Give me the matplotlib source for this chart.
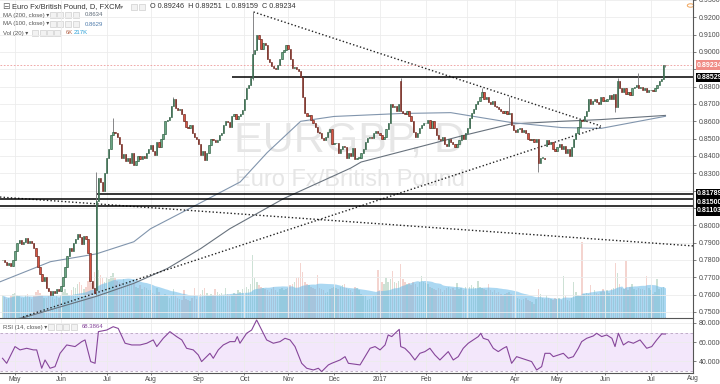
import numpy as np
import pandas as pd
import matplotlib
matplotlib.use("Agg")
import matplotlib.pyplot as plt
import matplotlib.transforms as mtransforms
from matplotlib.patches import Rectangle, Circle

plt.rcParams['font.family'] = ['Liberation Sans', 'DejaVu Sans']

# ---------------- data : EUR/GBP daily (FXCM) ----------------
dates = pd.bdate_range('2016-04-22', '2017-07-12')

closes_2016 = [
    0.7800, 0.7790, 0.7770, 0.7780, 0.7765, 0.7800,
    0.7850, 0.7900, 0.7915, 0.7890, 0.7905, 0.7925, 0.7900, 0.7910, 0.7895, 0.7870, 0.7820,
    0.7760, 0.7720, 0.7680, 0.7700, 0.7640, 0.7620, 0.7600, 0.7620, 0.7610, 0.7630, 0.7620,
    0.7650, 0.7700, 0.7760, 0.7820, 0.7870, 0.7850, 0.7900, 0.7920, 0.7950, 0.7930, 0.7890,
    0.7940, 0.7920, 0.7840, 0.7680, 0.7640, 0.7610, 0.8140, 0.8270, 0.8250, 0.8200, 0.8300,
    0.8390, 0.8440, 0.8520, 0.8540, 0.8530, 0.8510, 0.8470, 0.8390, 0.8410, 0.8370, 0.8390,
    0.8360, 0.8420, 0.8350, 0.8370, 0.8400, 0.8380, 0.8400, 0.8390, 0.8420, 0.8440,
    0.8465, 0.8430, 0.8405, 0.8480, 0.8450, 0.8500, 0.8525, 0.8600, 0.8610, 0.8625, 0.8690,
    0.8730, 0.8675, 0.8665, 0.8670, 0.8640, 0.8600, 0.8570, 0.8560, 0.8580, 0.8530, 0.8510, 0.8500,
    0.8470, 0.8405, 0.8430, 0.8375, 0.8420, 0.8465, 0.8500, 0.8495, 0.8480, 0.8495, 0.8520,
    0.8530, 0.8580, 0.8600, 0.8595, 0.8570, 0.8630, 0.8640, 0.8615, 0.8630, 0.8640, 0.8665,
    0.8730, 0.8790, 0.8810, 0.8850, 0.8990, 0.9010, 0.9100, 0.9075, 0.9020, 0.9050, 0.9040,
    0.8960, 0.8940, 0.8920, 0.8905, 0.8900, 0.8925, 0.8960, 0.9000, 0.9010, 0.9040,
    0.9015, 0.8960, 0.8905, 0.8915, 0.8900, 0.8890, 0.8855, 0.8740, 0.8650, 0.8630, 0.8635,
    0.8610, 0.8590, 0.8570, 0.8540, 0.8530, 0.8505, 0.8495, 0.8510, 0.8540, 0.8555, 0.8470,
    0.8475, 0.8475, 0.8420, 0.8440, 0.8460, 0.8450, 0.8390, 0.8415, 0.8400, 0.8445, 0.8385,
    0.8390, 0.8390, 0.8415, 0.8440, 0.8480, 0.8505, 0.8510, 0.8505, 0.8530, 0.8545, 0.8535,
]
closes_2017 = [
    0.8520, 0.8500, 0.8510, 0.8555, 0.8590, 0.8700, 0.8680, 0.8690, 0.8660, 0.8700, 0.8660,
    0.8650, 0.8640, 0.8660, 0.8630, 0.8600, 0.8540, 0.8510, 0.8530, 0.8560, 0.8580, 0.8590,
    0.8590, 0.8610, 0.8560, 0.8600, 0.8560, 0.8520, 0.8500, 0.8490, 0.8510, 0.8470,
    0.8460, 0.8500, 0.8480, 0.8470, 0.8450, 0.8470, 0.8490, 0.8520, 0.8500, 0.8530,
    0.8560, 0.8620, 0.8650, 0.8670, 0.8700, 0.8720, 0.8740, 0.8770, 0.8730, 0.8740, 0.8710,
    0.8700, 0.8720, 0.8690, 0.8680, 0.8670, 0.8660, 0.8650, 0.8660, 0.8640, 0.8650, 0.8580, 0.8550,
    0.8540, 0.8555, 0.8560, 0.8540, 0.8550, 0.8530, 0.8500, 0.8490, 0.8500, 0.8480,
    0.8500, 0.8360, 0.8390, 0.8390, 0.8380, 0.8490, 0.8470, 0.8480, 0.8440, 0.8430,
    0.8450, 0.8470, 0.8440, 0.8460, 0.8420, 0.8440, 0.8400, 0.8450, 0.8500, 0.8530, 0.8570,
    0.8610, 0.8600, 0.8630, 0.8660, 0.8730, 0.8700, 0.8720, 0.8730, 0.8710, 0.8700, 0.8740, 0.8720,
    0.8720, 0.8730, 0.8750, 0.8730, 0.8760, 0.8680, 0.8830, 0.8790, 0.8770, 0.8790, 0.8760,
    0.8770, 0.8750, 0.8790, 0.8800, 0.8810, 0.8790, 0.8800, 0.8780, 0.8790, 0.8770, 0.8780,
    0.8780, 0.8775, 0.8790, 0.8810, 0.8830, 0.8845, 0.8925, 0.89234,
]
# opens follow the previous close except on gap days
open_gaps = {45: 0.7625, 191: 0.8830, 261: 0.8460, 318: 0.89246}
# wicks that stand out on the chart: bar -> (high, low)
wicks = {45: (0.8305, 0.7600), 53: (0.8620, None), 82: (0.8740, None),
         120: (0.9230, 0.8840), 191: (0.8850, None), 230: (0.8790, None),
         243: (0.8740, None), 257: (None, 0.8310), 294: (None, 0.8655),
         295: (0.8850, None), 305: (0.8880, None), 318: (0.89251, 0.89159)}

# volume in thousands
volume_2016 = [
    190, 175, 160, 170, 185, 200,
    210, 195, 180, 170, 165, 190, 200, 175, 160, 185, 215, 230, 205, 190, 170, 165, 180, 200, 175, 160, 185, 170,
    195, 220, 240, 210, 190, 230, 260, 250, 280, 300, 270, 240, 260, 310, 330, 290, 380, 420, 400, 360, 330, 300,
    340, 320, 350, 370, 330, 310, 300, 290, 320, 280, 300, 290, 270, 280, 260, 250, 270, 240, 260, 250, 230,
    230, 210, 200, 250, 220, 190, 180, 200, 190, 170, 180, 240, 190, 170, 160, 150, 230, 160, 150, 140, 165, 250, 160,
    190, 200, 230, 250, 210, 180, 200, 190, 240, 220, 200, 210, 190, 250, 200, 180, 190, 210, 200, 230, 220, 240,
    250, 260, 240, 280, 520, 330, 300, 270, 260, 250, 240, 230, 220, 240, 260, 230, 220, 240, 250, 230, 240,
    250, 270, 280, 300, 330, 340, 460, 380, 300, 280, 270, 260, 250, 240, 360, 250, 240, 230, 210, 220, 240, 250,
    260, 250, 240, 260, 270, 280, 250, 240, 230, 220, 260, 250, 230, 200, 190, 180, 150, 160, 170, 180, 190, 400,
]
volume_2017 = [
    230, 300, 280, 330, 300, 320, 390, 300, 290, 310, 450, 320, 300, 280, 290, 270, 300, 280, 260, 300, 350, 300,
    290, 280, 260, 250, 240, 230, 250, 240, 220, 230, 250, 260, 240, 250, 230, 290, 240, 250, 230, 260,
    290, 260, 270, 260, 250, 310, 260, 250, 240, 230, 280, 230, 220, 230, 210, 220, 200, 190, 200, 210, 220, 200, 190,
    180, 170, 160, 150, 160, 170, 150, 140, 130, 120, 160, 240, 200, 170, 160, 190, 170, 160, 150, 170,
    160, 170, 150, 345, 180, 150, 140, 170, 295, 220, 190, 180, 630, 200, 210, 200, 270, 190, 230, 210, 200, 220, 240,
    220, 230, 210, 240, 250, 460, 370, 280, 250, 240, 470, 230, 260, 280, 240, 230, 250, 240, 240, 230, 345, 250,
    230, 200, 220, 320, 240, 250, 260, 6,
]

# moving averages, sampled off the chart (bar index, value)
ma200_idx = [-2, 11, 45, 63, 79, 95, 109, 135, 167, 172, 196, 220, 244, 268, 287, 318]
ma200_val = [0.7440, 0.7470, 0.7590, 0.7665, 0.7750, 0.7865, 0.7980, 0.8155, 0.8330, 0.8365,
             0.8440, 0.8515, 0.8585, 0.8600, 0.8610, 0.8634]
ma100_idx = [-2, 23, 45, 63, 71, 95, 114, 127, 143, 159, 191, 215, 244, 268, 287, 318]
ma100_val = [0.7670, 0.7790, 0.7835, 0.7905, 0.7980, 0.8130, 0.8250, 0.8420, 0.8600, 0.8628,
             0.8645, 0.8650, 0.8593, 0.8564, 0.8559, 0.8629]

# RSI(14), sampled off the lower pane (bar index, value)
rsi_idx = [0, 2, 6, 8.4, 11.6, 14.8, 16.4, 18.8, 20.4, 22.8, 25.2, 27.6, 30.8, 34.8, 38, 39.6,
           42.3, 44.4, 46, 50, 53.1, 55.5, 58.8, 62, 66, 69.2, 72.3, 74, 77.1, 80.3, 83.5, 86,
           88.3, 91.5, 93.9, 95.5, 97.9, 99.5, 101.1, 103.5, 105.9, 109.1, 111.5, 112.6, 113.9,
           117.1, 119.5, 121.9, 124.3, 126.7, 129.9, 133.1, 135.5, 137.9, 140.3, 143.5, 145.9,
           149.1, 151.5, 153.1, 156.3, 157.9, 161.9, 164.3, 165.9, 171.5, 176.3, 178.7, 181.1,
           183.5, 185, 186.7, 188.3, 190.3, 191, 193, 195.4, 197.8, 200.2, 202.6, 205, 207.4,
           209.8, 212.2, 213.8, 216.2, 218.6, 221, 223.4, 225.8, 228.2, 229.4, 230.6, 233, 235.4,
           237.8, 240.2, 241.8, 244.2, 246.6, 249, 251.4, 253.8, 256.2, 258.6, 260.2, 262.6,
           264.2, 266.6, 269, 271.4, 273.8, 276.2, 277.8, 280.2, 283.4, 285, 287.4, 289.8, 292.3,
           293.8, 295.4, 297.8, 300.2, 302.6, 305.8, 309, 311.4, 313.8, 316.2, 318]
rsi_val = [42.9, 37.6, 55.2, 51.7, 53.4, 51.7, 51.7, 32.4, 41.1, 32.4, 34.1, 48.1, 56.9, 55.2,
           60.4, 62.2, 39.4, 37.6, 70.9, 72.6, 76.1, 74.3, 58.7, 56.9, 56.9, 58.7, 62.2, 55.2,
           63.9, 70.9, 65.7, 62.2, 53.4, 51.7, 46.4, 39.4, 44.6, 48.1, 42.9, 51.7, 56.9, 60.4,
           60.4, 65.7, 58.7, 69.2, 72.6, 83.2, 72.6, 62.2, 58.7, 60.4, 63.9, 62.2, 55.2, 37.6,
           32.4, 30.6, 32.4, 28.9, 35.9, 37.6, 41.1, 44.6, 37.6, 35.9, 53.4, 55.2, 51.7, 56.9,
           67.4, 65.7, 69.2, 73.3, 55.2, 53.4, 48.1, 41.1, 48.1, 49.9, 53.4, 46.4, 41.1, 46.4,
           49.9, 41.1, 44.6, 53.4, 58.7, 62.2, 65.7, 69.2, 63.9, 62.2, 53.4, 49.9, 53.4, 55.2,
           37.6, 44.6, 42.9, 41.1, 39.4, 30.6, 34.1, 48.1, 48.1, 44.6, 46.4, 48.1, 42.9, 44.6,
           53.4, 60.4, 63.9, 66.4, 69.2, 65.7, 67.4, 63.9, 55.2, 69.2, 56.9, 60.4, 58.7, 62.2,
           53.4, 55.2, 62.2, 68.5, 68.4]

# hand-drawn studies: trend lines (bar, price) pairs and horizontal levels
trend_lines = [((120.4, 0.9231), (287.0, 0.8573)),
               ((9.8, 0.7471), (287.0, 0.8567)),
               ((-1.2, 0.8163), (331.2, 0.7881))]
levels = [0.88529, 0.81789, 0.81500, 0.81103]
level_start = [110.0, 45.3, -1.2, -1.2]
last_price = 0.89234

# ---------------- derived series ----------------
closes = np.array(closes_2016 + closes_2017)
volume = np.array(volume_2016 + volume_2017, dtype=float)
assert len(closes) == len(dates) == len(volume), (len(closes), len(dates), len(volume))
assert len(rsi_idx) == len(rsi_val), (len(rsi_idx), len(rsi_val))
n = len(closes)
x = np.arange(n)
opens = np.r_[closes[0], closes[:-1]]
for i, v in open_gaps.items():
    opens[i] = v
highs = np.maximum(opens, closes)
lows = np.minimum(opens, closes)
for i, (h, l) in wicks.items():
    if h is not None:
        highs[i] = h
    if l is not None:
        lows[i] = l
up = closes >= opens
vol_ma = pd.Series(volume).rolling(20, min_periods=1).mean().values

# ---------------- figure ----------------
W, H = 720, 384
fig = plt.figure(figsize=(7.2, 3.84), dpi=100)
fig.patch.set_facecolor('white')


def fx(px):
    return px / W


def fy(py):
    return 1 - py / H


XL = (-1.2, 331.2)
ax = fig.add_axes([0, fy(318), fx(693), 318 / H])
axv = ax.twinx()
ax.set_zorder(axv.get_zorder() + 1)
ax.patch.set_visible(False)
axr = fig.add_axes([0, fy(373), fx(693), (373 - 319) / H], sharex=ax)

grid_c = '#ececec'
txt_c = '#4a4a4a'
axis_fs = 5.0

# volume + volume MA area
vcol = np.where(up, '#6ba58355', '#d7544240')
axv.bar(x, volume, width=0.7, color=vcol, lw=0)
axv.fill_between(x, 0, vol_ma, color='#67b8e8', alpha=0.55, lw=0)
axv.set_ylim(0, 2640)
axv.set_yticks([])
for s in axv.spines.values():
    s.set_visible(False)

# month ticks
month_first = [i for i in range(1, n) if dates[i].month != dates[i - 1].month]
month_lab = ['2017' if dates[i].month == 1 else dates[i].strftime('%b') for i in month_first]

# price pane (labels hidden where the price tags sit)
ax.set_xlim(*XL)
ax.set_ylim(0.7465, 0.9300)
yt = np.round(np.arange(0.75, 0.935, 0.01), 2)
ax.set_yticks(yt)
ax.set_yticklabels(['' if v in (0.89, 0.82, 0.81) else f'{v:.5f}' for v in yt])
ax.yaxis.tick_right()
ax.tick_params(axis='y', labelsize=axis_fs, colors=txt_c, length=2, width=0.5, pad=2)
ax.set_xticks(month_first)
ax.tick_params(axis='x', length=0, labelbottom=False)
ax.grid(True, color=grid_c, lw=0.6)
ax.set_axisbelow(True)
for side in ('top', 'left'):
    ax.spines[side].set_visible(False)
for side in ('right', 'bottom'):
    ax.spines[side].set_color('#555555')
    ax.spines[side].set_linewidth(0.8)

# watermark
ax.text(0.505, 0.557, 'EURGBP, D', transform=ax.transAxes, ha='center', va='center',
        fontsize=31, color='#e6e6e6', zorder=0.6)
ax.text(0.505, 0.434, 'Euro Fx/British Pound', transform=ax.transAxes, ha='center', va='center',
        fontsize=17, color='#e6e6e6', zorder=0.6)

# moving averages
ax.plot(ma200_idx, ma200_val, color='#68727d', lw=0.8, zorder=2)
ax.plot(ma100_idx, ma100_val, color='#8195ad', lw=0.8, zorder=2)

# trend lines and levels
for (x0, y0), (x1, y1) in trend_lines:
    ax.plot([x0, x1], [y0, y1], color='#222222', lw=1.0, ls=(0, (1, 1.6)), zorder=2.5)
for lv, xs in zip(levels, level_start):
    ax.hlines(lv, xs, XL[1], color='black', lw=1.1, zorder=2.5)
ax.axhline(last_price, color='#ee9a9a', lw=0.6, ls=(0, (2, 2)), zorder=2.5)

# candles
ax.vlines(x, lows, highs, color='#737375', lw=0.6, zorder=3)
body_lo = np.minimum(opens, closes)
body_h = np.maximum(np.abs(closes - opens), 0.00025)
ax.bar(x[up], body_h[up], bottom=body_lo[up], width=0.62, color='#6ba583',
       edgecolor='#225437', lw=0.4, zorder=4)
ax.bar(x[~up], body_h[~up], bottom=body_lo[~up], width=0.62, color='#d75442',
       edgecolor='#5b1a13', lw=0.4, zorder=4)

# RSI pane
axr.axhspan(30, 70, color='#f3e7fb', lw=0, zorder=0)
axr.axhline(70, color='#b8a3c0', lw=0.6, ls=(0, (3, 3)))
axr.axhline(30, color='#b8a3c0', lw=0.6, ls=(0, (3, 3)))
axr.plot(rsi_idx, rsi_val, color='#86469a', lw=0.8)
axr.set_ylim(27.4, 84.2)
axr.set_yticks([40, 60, 80])
axr.set_yticklabels([f'{v:.4f}' for v in (40, 60, 80)])
axr.yaxis.tick_right()
axr.tick_params(axis='y', labelsize=axis_fs, colors=txt_c, length=2, width=0.5, pad=2)
axr.set_xticks(month_first)
axr.set_xticklabels(month_lab)
axr.tick_params(axis='x', labelsize=4.8, colors=txt_c, length=1.5, width=0.5, pad=0.8)
axr.grid(True, color=grid_c, lw=0.6)
axr.set_axisbelow(True)
for side in ('top', 'left'):
    axr.spines[side].set_visible(False)
for side in ('right', 'bottom'):
    axr.spines[side].set_color('#555555')
    axr.spines[side].set_linewidth(0.8)
axr.set_xlim(*XL)
fig.text(fx(693), fy(378.5), 'Aug', ha='center', va='center', fontsize=4.8, color=txt_c)

# price tags on the right scale (stacked so they do not overlap)
tag_tr = mtransforms.blended_transform_factory(fig.transFigure, ax.transData)
tags = [(0.89234, 0.89234, '#f08c86'), (0.88529, 0.88529, 'black'),
        (0.81789, 0.81830, 'black'), (0.81500, 0.81330, 'black'), (0.81103, 0.80830, 'black')]
for val, ypos, fc in tags:
    fig.text(fx(697), ypos, f'{val:.5f}', transform=tag_tr, ha='left', va='center',
             fontsize=axis_fs, color='white', fontweight='bold',
             bbox=dict(boxstyle='square,pad=0.2', fc=fc, ec='none'))

# small alert icon, top right
fig.add_artist(Circle((fx(690.5), fy(5.5)), 3.2 / W, transform=fig.transFigure,
                      fc='white', ec='#f0a45a', lw=0.7))


# legend rows
def icons(x0, y, k):
    for j in range(k):
        fig.add_artist(Rectangle((fx(x0 + j * 7.5), fy(y + 3)), 6 / W, 6 / H,
                                 transform=fig.transFigure, fc='#f2f2f2', ec='#cfcfcf', lw=0.5))


fig.text(fx(2), fy(6.5), '\u229f', fontsize=6.5, color='#666666', va='center')
fig.text(fx(12), fy(6.5), 'Euro Fx/British Pound, D, FXCM', fontsize=5.4, color='#333333', va='center')
fig.text(fx(120), fy(6.5), '\u25be', fontsize=4.5, color='#888888', va='center')
icons(131, 6.5, 2)
fig.text(fx(150), fy(6.5), 'O 0.89246  H 0.89251  L 0.89159  C 0.89234', fontsize=5.2,
         color='#333333', va='center')

rows = [('MA (200, close) \u25be', 15, 50, 4, [('0.8634', 85, '#5f6b78')]),
        ('MA (100, close) \u25be', 24, 50, 4, [('0.8629', 85, '#4f7cac')]),
        ('Vol (20) \u25be', 33, 32, 4, [('6K', 66, '#b4654a'), ('217K', 74, '#2a9fd6')]),
        ('RSI (14, close) \u25be', 327, 48, 4, [('68.3864', 82, '#86469a')])]
for label, yy, ix, k, vals in rows:
    fig.text(fx(3), fy(yy), label, fontsize=4.3, color='#555555', va='center')
    icons(ix, yy, k)
    for s, xx, col in vals:
        fig.text(fx(xx), fy(yy), s, fontsize=4.3, color=col, va='center')

fig.savefig('out.png', dpi=100)
